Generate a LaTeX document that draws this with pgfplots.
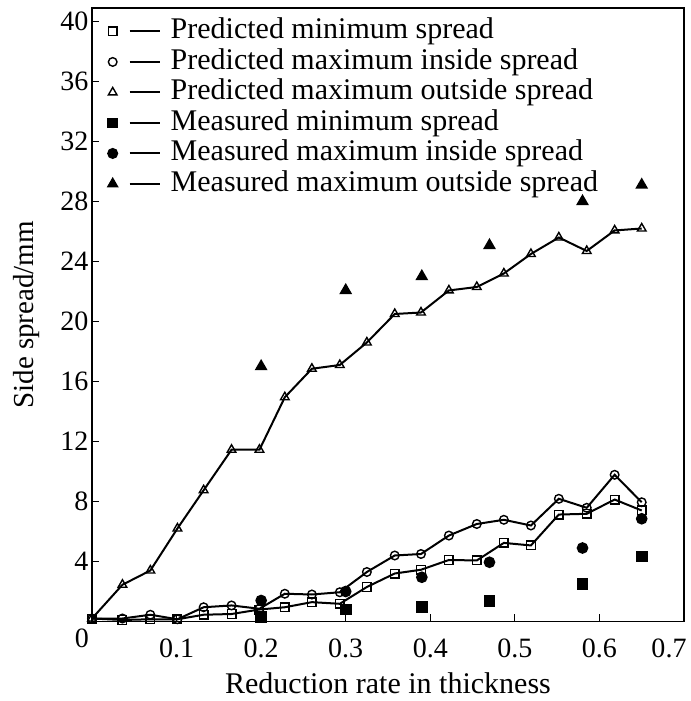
\documentclass[border=0pt]{standalone}
\usepackage{fontspec}
\setmainfont{Liberation Serif}
\usepackage{pgfplots}
\pgfplotsset{compat=1.18}

\begin{document}
\begin{tikzpicture}
\begin{axis}[
  scale only axis, width=592pt, height=613.5pt,
  xmin=0, xmax=0.7, ymin=0, ymax=40.9,
  xtick={0.1,0.2,0.3,0.4,0.5,0.6},
  xticklabels={0.1,0.2,0.3,0.4,0.5,0.6},
  extra x ticks={0.7}, extra x tick labels={0.7},
  extra x tick style={xticklabel style={xshift=-15pt}},
  ytick={4,8,12,16,20,24,28,32,36,40},
  /pgf/number format/assume math mode=true,
  xtick pos=left, ytick pos=left,
  tick align=inside, major tick length=7pt,
  tick style={line width=1pt, black},
  tick label style={font=\fontsize{28}{28}\selectfont},
  xticklabel style={yshift=-14pt},
  axis line style={line width=1.2pt},
  xlabel={Reduction rate in thickness},
  ylabel={Side spread/mm},
  every axis x label/.style={at={(axis description cs:0.5,0)}, anchor=center, yshift=-62pt, font=\fontsize{30}{30}\selectfont},
  every axis y label/.style={at={(axis description cs:0,0.5)}, xshift=-65pt, rotate=90, anchor=center, font=\fontsize{29}{29}\selectfont},
  every axis plot/.append style={line width=2pt, black},
  legend image code/.code={
    \draw[#1] plot coordinates {(0pt,0pt)};
    \draw[#1, mark=none] (17pt,0pt) -- (47pt,0pt);
  },
  legend style={draw=none, fill=none, at={(axis description cs:0,1)}, anchor=north west,
    xshift=16pt, yshift=-8pt, inner sep=0pt, font=\fontsize{30}{30}\selectfont,
    row sep=0pt, column sep=9pt,
    nodes={inner sep=1pt, text height=21.5pt, text depth=7pt}},
  legend cell align=left,
]
% Predicted minimum spread
\addplot[mark=square, mark size=4.3pt, mark options={fill=white, solid, line width=1.4pt}] coordinates {
(0,0.2) (0.036,0.1) (0.069,0.15) (0.101,0.15) (0.132,0.45) (0.165,0.5) (0.198,0.8)
(0.228,0.95) (0.26,1.29) (0.293,1.18) (0.325,2.3) (0.358,3.2) (0.389,3.45) (0.422,4.1)
(0.455,4.07) (0.487,5.24) (0.519,5.07) (0.552,7.13) (0.585,7.18) (0.618,8.13) (0.650,7.4)};
\addlegendentry{Predicted minimum spread}
% Predicted maximum inside spread
\addplot[mark=o, mark size=4.3pt, mark options={fill=white, solid, line width=1.4pt}] coordinates {
(0,0.2) (0.036,0.2) (0.069,0.45) (0.101,0.15) (0.132,0.95) (0.165,1.07) (0.198,0.85)
(0.228,1.85) (0.26,1.8) (0.293,1.95) (0.325,3.3) (0.358,4.4) (0.389,4.5) (0.422,5.73)
(0.455,6.5) (0.487,6.78) (0.519,6.4) (0.552,8.18) (0.585,7.58) (0.618,9.78) (0.650,7.95)};
\addlegendentry{Predicted maximum inside spread}
% Predicted maximum outside spread
\addplot[mark=triangle, mark size=5pt, mark options={fill=white, solid, line width=1.4pt}] coordinates {
(0,0.2) (0.036,2.45) (0.069,3.4) (0.101,6.2) (0.132,8.75) (0.165,11.45) (0.198,11.45)
(0.228,14.95) (0.26,16.85) (0.293,17.1) (0.325,18.6) (0.358,20.5) (0.389,20.6) (0.422,22.07)
(0.455,22.3) (0.487,23.2) (0.519,24.5) (0.552,25.6) (0.585,24.7) (0.618,26.07) (0.650,26.2)};
\addlegendentry{Predicted maximum outside spread}
\addlegendimage{black, line width=2pt, mark=square*, mark size=4.3pt}
\addlegendentry{Measured minimum spread}
\addlegendimage{black, line width=2pt, mark=*, mark size=4.5pt}
\addlegendentry{Measured maximum inside spread}
\addlegendimage{black, line width=2pt, mark=triangle*, mark size=5pt}
\addlegendentry{Measured maximum outside spread}
% Measured
\addplot[only marks, mark=square*, mark size=4.8pt, forget plot] coordinates {
(0.2,0.3) (0.3,0.8) (0.39,0.95) (0.47,1.35) (0.58,2.5) (0.65,4.33)};
\addplot[only marks, mark=*, mark size=4.8pt, forget plot] coordinates {
(0.2,1.4) (0.3,2.0) (0.39,2.95) (0.47,3.95) (0.58,4.9) (0.65,6.85)};
\addplot[only marks, mark=triangle*, mark size=5.5pt, forget plot] coordinates {
(0.2,17.0) (0.3,22.07) (0.39,23.0) (0.47,25.07) (0.58,28.0) (0.65,29.1)};
\end{axis}
\node[anchor=north east, inner sep=0pt, font=\fontsize{28}{28}\selectfont] at ([xshift=-3pt, yshift=-7pt]current axis.south west) {0};
\pgfresetboundingbox
\path[use as bounding box] ([xshift=-92pt,yshift=-79.5pt]current axis.south west) rectangle ([xshift=7pt,yshift=8pt]current axis.north east);
\end{tikzpicture}
\end{document}
